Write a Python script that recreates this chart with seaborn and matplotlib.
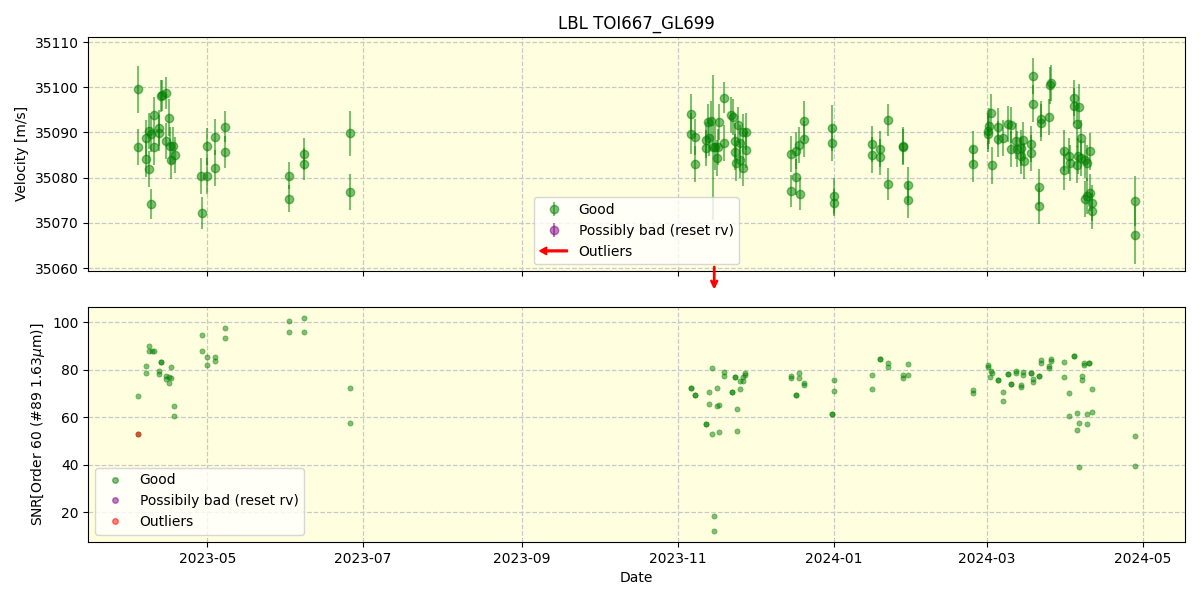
import numpy as np
import pandas as pd
import matplotlib
matplotlib.use("Agg")
import matplotlib.pyplot as plt
import matplotlib.dates as mdates
import seaborn as sns
from matplotlib.lines import Line2D
from matplotlib.patches import FancyArrow, Patch
from matplotlib.legend_handler import HandlerPatch

# radial velocity points (Good)
rv_dates = [
    "2023-04-04", "2023-04-04", "2023-04-07 06:00", "2023-04-07 06:00", "2023-04-08 06:00",
    "2023-04-08 06:00", "2023-04-09", "2023-04-09", "2023-04-10 06:00", "2023-04-10 06:00",
    "2023-04-12 06:00", "2023-04-12 06:00", "2023-04-13", "2023-04-13 12:00", "2023-04-14 18:00",
    "2023-04-15", "2023-04-16", "2023-04-16 12:00", "2023-04-17", "2023-04-17 18:00",
    "2023-04-18 12:00", "2023-04-28 18:00", "2023-04-29", "2023-04-30 18:00", "2023-05-01",
    "2023-05-04", "2023-05-04", "2023-05-08", "2023-05-08", "2023-06-02",
    "2023-06-02", "2023-06-08", "2023-06-08", "2023-06-26", "2023-06-26",
    "2023-11-06 06:00", "2023-11-06 06:00", "2023-11-08", "2023-11-08", "2023-11-12",
    "2023-11-12 06:00", "2023-11-13", "2023-11-13 06:00", "2023-11-14 06:00", "2023-11-14 18:00",
    "2023-11-15 18:00", "2023-11-16 12:00", "2023-11-16 18:00", "2023-11-17 06:00", "2023-11-19 06:00",
    "2023-11-19 06:00", "2023-11-22", "2023-11-22 12:00", "2023-11-23 12:00", "2023-11-23 12:00",
    "2023-11-24", "2023-11-24 12:00", "2023-11-25 06:00", "2023-11-25 06:00", "2023-11-26 12:00",
    "2023-11-26 12:00", "2023-11-27 18:00", "2023-11-27 18:00", "2023-12-15 12:00", "2023-12-15 12:00",
    "2023-12-17 06:00", "2023-12-17 12:00", "2023-12-18 12:00", "2023-12-18 18:00", "2023-12-20 12:00",
    "2023-12-20 12:00", "2023-12-31 10:00", "2023-12-31 10:00", "2024-01-01 03:00", "2024-01-01 03:00",
    "2024-01-16", "2024-01-16", "2024-01-19", "2024-01-19", "2024-01-22 06:00",
    "2024-01-22 06:00", "2024-01-28 06:00", "2024-01-28 06:00", "2024-01-30", "2024-01-30",
    "2024-02-24 18:00", "2024-02-24 18:00", "2024-03-01 10:00", "2024-03-01 10:00", "2024-03-01 18:00",
    "2024-03-02 18:00", "2024-03-03", "2024-03-05 06:00", "2024-03-05 06:00", "2024-03-07 06:00",
    "2024-03-09 06:00", "2024-03-10 06:00", "2024-03-10 12:00", "2024-03-12 06:00", "2024-03-12 18:00",
    "2024-03-14 12:00", "2024-03-14 12:00", "2024-03-15 06:00", "2024-03-15 12:00", "2024-03-18 06:00",
    "2024-03-18 06:00", "2024-03-19", "2024-03-19", "2024-03-21 10:00", "2024-03-21 10:00",
    "2024-03-22", "2024-03-22 06:00", "2024-03-25 06:00", "2024-03-25 12:00", "2024-03-26 06:00",
    "2024-03-31 06:00", "2024-03-31 06:00", "2024-04-02", "2024-04-02 12:00", "2024-04-04",
    "2024-04-04", "2024-04-05 06:00", "2024-04-05 12:00", "2024-04-05 06:00", "2024-04-06",
    "2024-04-07", "2024-04-07", "2024-04-08 06:00", "2024-04-08 06:00", "2024-04-09 06:00",
    "2024-04-09 06:00", "2024-04-10 06:00", "2024-04-10 06:00", "2024-04-11", "2024-04-11",
    "2024-04-28", "2024-04-28",
]
rv_vals = [
    35099.6, 35086.8, 35088.8, 35084.2, 35090.3, 35081.9, 35089.6, 35074.2, 35093.8, 35086.7,
    35091.0, 35089.9, 35098.0, 35098.2, 35088.1, 35098.7, 35093.3, 35087.1, 35083.8, 35087.1,
    35085.1, 35080.4, 35072.2, 35080.4, 35086.9, 35089.0, 35082.2, 35091.3, 35085.7, 35080.4,
    35075.3, 35085.3, 35083.0, 35089.8, 35076.8,
    35094.0, 35089.7, 35089.0, 35083.0, 35086.6, 35088.4, 35092.3, 35088.8, 35092.5, 35086.7,
    35086.7, 35084.4, 35086.7, 35092.3, 35097.7, 35087.7, 35093.8, 35093.5, 35088.1, 35085.7,
    35083.3, 35091.6, 35087.7, 35084.0, 35082.2, 35090.1, 35090.2, 35086.2, 35085.3, 35077.0,
    35086.0, 35080.2, 35087.3, 35076.4, 35092.5, 35088.6, 35091.0, 35087.7, 35076.0, 35074.5,
    35087.5, 35085.1, 35086.4, 35084.6, 35092.7, 35078.6, 35087.1, 35086.8, 35078.4, 35075.1,
    35086.4, 35083.0, 35089.7, 35090.3, 35091.4, 35094.4, 35082.7, 35091.3, 35088.6, 35088.8,
    35091.8, 35086.4, 35091.6, 35088.2, 35086.4, 35086.6, 35084.9, 35088.3, 35083.6, 35087.5,
    35085.5, 35102.4, 35096.4, 35077.9, 35073.8, 35093.0, 35092.2, 35093.5, 35100.4, 35100.9,
    35086.0, 35081.8, 35084.7, 35083.3, 35097.7, 35095.8, 35091.8, 35084.7, 35082.9, 35095.7,
    35088.8, 35084.4, 35084.0, 35075.3, 35083.3, 35075.9, 35085.8, 35076.7, 35074.4, 35072.7,
    35074.9, 35067.3,
]
rv_errs = [
    5.2, 4.0, 4.0, 4.0, 4.0, 4.0, 4.0, 3.3, 4.0, 4.0,
    4.0, 4.0, 3.5, 3.5, 4.0, 3.5, 4.0, 4.0, 4.0, 4.0,
    4.0, 4.0, 3.5, 4.0, 4.0, 4.0, 4.0, 3.5, 3.5, 3.0,
    3.0, 3.5, 3.5, 5.0, 4.0,
    4.5, 4.5, 4.0, 4.0, 4.0, 4.0, 4.0, 4.0, 4.5, 16.0,
    5.0, 4.0, 4.0, 4.0, 3.5, 4.0, 4.0, 4.0, 4.0, 4.0,
    4.0, 4.0, 4.0, 4.0, 4.0, 4.0, 4.0, 4.0, 4.0, 3.5,
    4.0, 4.0, 4.0, 3.5, 4.5, 4.0, 5.0, 4.0, 4.0, 3.0,
    4.0, 4.0, 4.0, 4.0, 3.5, 3.5, 4.0, 4.0, 4.0, 4.0,
    4.0, 4.0, 4.0, 4.0, 4.0, 4.0, 4.0, 4.0, 4.0, 4.0,
    4.0, 4.0, 4.0, 4.0, 4.0, 4.0, 4.0, 4.0, 4.0, 4.0,
    4.0, 4.0, 4.0, 4.0, 4.0, 4.0, 4.0, 4.0, 4.0, 4.0,
    4.5, 4.5, 4.0, 4.0, 4.0, 4.0, 5.0, 4.0, 4.0, 5.0,
    4.0, 4.0, 4.0, 4.0, 4.0, 4.0, 4.0, 4.0, 4.0, 4.0,
    5.5, 6.5,
]

# SNR points (Good)
snr_dates = [
    "2023-04-04", "2023-04-04", "2023-04-07 06:00", "2023-04-07 06:00", "2023-04-08 06:00", "2023-04-08 06:00",
    "2023-04-09 06:00", "2023-04-10 06:00", "2023-04-12 06:00", "2023-04-12 06:00", "2023-04-13",
    "2023-04-13", "2023-04-15", "2023-04-15", "2023-04-16", "2023-04-16",
    "2023-04-17", "2023-04-17", "2023-04-18", "2023-04-18", "2023-04-29",
    "2023-04-29", "2023-05-01", "2023-05-01", "2023-05-04", "2023-05-04",
    "2023-05-08", "2023-05-08", "2023-06-02", "2023-06-02", "2023-06-08",
    "2023-06-08", "2023-06-26", "2023-06-26",
    "2023-11-06 06:00", "2023-11-06 06:00", "2023-11-08", "2023-11-08", "2023-11-12",
    "2023-11-12", "2023-11-13 06:00", "2023-11-13 06:00", "2023-11-14 12:00", "2023-11-14 12:00",
    "2023-11-15 08:00", "2023-11-15 08:00", "2023-11-16 12:00", "2023-11-16 12:00", "2023-11-17 06:00",
    "2023-11-17 06:00", "2023-11-19 06:00", "2023-11-19 06:00", "2023-11-22 10:00", "2023-11-22 10:00",
    "2023-11-23 12:00", "2023-11-23 12:00", "2023-11-24 06:00", "2023-11-24 06:00", "2023-11-25 10:00",
    "2023-11-25 10:00", "2023-11-26 10:00", "2023-11-26 10:00", "2023-11-27 10:00", "2023-11-27 10:00",
    "2023-12-15 12:00", "2023-12-15 12:00", "2023-12-17 12:00", "2023-12-17 12:00", "2023-12-18 12:00",
    "2023-12-18 12:00", "2023-12-20 12:00", "2023-12-20 12:00", "2023-12-31 10:00", "2023-12-31 10:00",
    "2024-01-01 03:00", "2024-01-01 03:00", "2024-01-16 03:00", "2024-01-16 03:00", "2024-01-19 03:00",
    "2024-01-19 03:00", "2024-01-22 06:00", "2024-01-22 06:00", "2024-01-28 06:00", "2024-01-28 06:00",
    "2024-01-30 03:00", "2024-01-30 03:00",
    "2024-02-24 18:00", "2024-02-24 18:00", "2024-03-01 10:00", "2024-03-01 10:00", "2024-03-02 03:00",
    "2024-03-02 18:00", "2024-03-03", "2024-03-05 06:00", "2024-03-05 06:00", "2024-03-07 06:00",
    "2024-03-07 06:00", "2024-03-09 06:00", "2024-03-09 06:00", "2024-03-10 06:00", "2024-03-10 06:00",
    "2024-03-12 06:00", "2024-03-12 06:00", "2024-03-14 06:00", "2024-03-14 06:00", "2024-03-15 03:00",
    "2024-03-15 03:00", "2024-03-18 06:00", "2024-03-18 06:00", "2024-03-19", "2024-03-19",
    "2024-03-21 10:00", "2024-03-21 10:00", "2024-03-22 06:00", "2024-03-22 06:00", "2024-03-25 06:00",
    "2024-03-25 06:00", "2024-03-26 06:00", "2024-03-26 06:00", "2024-03-31 06:00", "2024-03-31 06:00",
    "2024-04-02 03:00", "2024-04-02 03:00", "2024-04-04 03:00", "2024-04-04 03:00", "2024-04-05 06:00",
    "2024-04-05 06:00", "2024-04-06", "2024-04-06", "2024-04-07 06:00", "2024-04-07 06:00",
    "2024-04-08", "2024-04-08", "2024-04-09 06:00", "2024-04-09 06:00", "2024-04-09 22:00",
    "2024-04-09 22:00", "2024-04-11 03:00", "2024-04-11 03:00", "2024-04-28", "2024-04-28",
]
snr_vals = [
    69.1, 52.9, 81.4, 78.6, 90.2, 87.8, 87.8, 87.8, 79.6, 78.2, 83.3,
    83.3, 77.5, 76.1, 76.8, 74.4, 76.5, 81.2, 64.9, 60.6, 94.8,
    88.1, 85.5, 82.2, 85.5, 83.8, 97.6, 93.4, 100.7, 95.9, 101.9,
    95.9, 72.3, 57.6,
    72.3, 72.3, 69.5, 69.5, 57.1, 57.1, 70.6, 65.6, 80.8, 52.9,
    18.4, 12.0, 72.3, 64.9, 65.1, 53.8, 79.1, 77.4, 70.6, 70.6,
    76.8, 76.8, 63.5, 54.3, 71.9, 75.3, 75.3, 76.8, 78.6, 77.6,
    77.5, 76.5, 69.2, 69.2, 78.6, 76.5, 74.4, 73.6, 61.2, 61.2,
    75.7, 71.1, 77.8, 71.9, 84.4, 84.4, 82.9, 81.2, 77.8, 76.5,
    82.4, 77.8,
    71.5, 70.2, 82.2, 81.2, 77.0, 79.3, 78.6, 75.9, 75.9, 70.6,
    66.8, 78.2, 78.2, 73.8, 73.8, 79.3, 78.6, 73.7, 72.9, 78.9,
    77.6, 78.6, 78.6, 76.2, 74.9, 77.2, 77.2, 84.3, 82.9, 81.6,
    80.8, 84.7, 83.5, 83.3, 77.0, 70.2, 60.5, 85.9, 85.9, 61.8,
    54.6, 57.6, 39.0, 77.2, 75.5, 82.9, 82.0, 61.4, 57.1, 82.9,
    82.9, 71.9, 62.2, 52.1, 39.4,
]

outlier_dates = ["2023-04-04"]
outlier_snr = [52.9]
arrow_date = "2023-11-15 08:00"

rv = pd.DataFrame({"date": pd.to_datetime(rv_dates, format="mixed"), "rv": rv_vals, "err": rv_errs})
snr = pd.DataFrame({"date": pd.to_datetime(snr_dates, format="mixed"), "snr": snr_vals})
out = pd.DataFrame({"date": pd.to_datetime(outlier_dates, format="mixed"), "snr": outlier_snr})

fig, (ax1, ax2) = plt.subplots(2, 1, figsize=(12, 6), sharex=True)
fig.subplots_adjust(left=0.0736, right=0.9875, top=0.939, bottom=0.097, hspace=0.153)

for ax in (ax1, ax2):
    ax.set_facecolor("lightyellow")
    ax.grid(True, linestyle="--", color="#c8c8c8", linewidth=0.9)
    ax.set_axisbelow(True)

# top panel: velocities
ax1.errorbar(rv["date"], rv["rv"], yerr=rv["err"], fmt="o", color="green",
             alpha=0.5, elinewidth=1.5, label="Good")
ax1.errorbar([], [], yerr=[], fmt="o", color="purple", alpha=0.5,
             elinewidth=1.5, label="Possibly bad (reset rv)")
ax1.set_ylim(35059.3, 35111.2)
ax1.set_ylabel("Velocity [m/s]")
ax1.set_title("LBL TOI667_GL699")

xa = mdates.date2num(pd.Timestamp(arrow_date))
ax1.annotate("", xy=(xa, -0.09), xytext=(xa, 0.03), xycoords=ax1.get_xaxis_transform(),
             arrowprops=dict(arrowstyle="->", color="red", lw=2), annotation_clip=False)


def make_arrow(legend, orig_handle, xdescent, ydescent, width, height, fontsize):
    return FancyArrow(width, height / 2, -width, 0, width=1.3, head_width=5.5,
                      head_length=5, length_includes_head=True, color="red")


arrow_proxy = Patch(color="red")
h, l = ax1.get_legend_handles_labels()
ax1.legend(h + [arrow_proxy], l + ["Outliers"], loc="lower center",
           handler_map={arrow_proxy: HandlerPatch(patch_func=make_arrow)})

# bottom panel: SNR
sns.scatterplot(data=snr, x="date", y="snr", ax=ax2, color="green", alpha=0.5,
                s=14, edgecolor="green", linewidth=0.5, legend=False)
sns.scatterplot(data=out, x="date", y="snr", ax=ax2, color="red", alpha=0.5,
                s=14, edgecolor="red", linewidth=0.5, legend=False)
ax2.set_ylabel(r"SNR[Order 60 (#89 1.63$\mu$m)]")
ax2.set_xlabel("Date")

handles2 = [
    Line2D([], [], marker="o", ls="", color="green", alpha=0.5, ms=4),
    Line2D([], [], marker="o", ls="", color="purple", alpha=0.5, ms=4),
    Line2D([], [], marker="o", ls="", color="red", alpha=0.5, ms=4),
]
ax2.legend(handles2, ["Good", "Possibily bad (reset rv)", "Outliers"], loc="lower left")

ax2.xaxis.set_major_locator(mdates.MonthLocator(bymonth=[1, 3, 5, 7, 9, 11]))
ax2.xaxis.set_major_formatter(mdates.DateFormatter("%Y-%m"))

plt.savefig("out.png", dpi=100)
